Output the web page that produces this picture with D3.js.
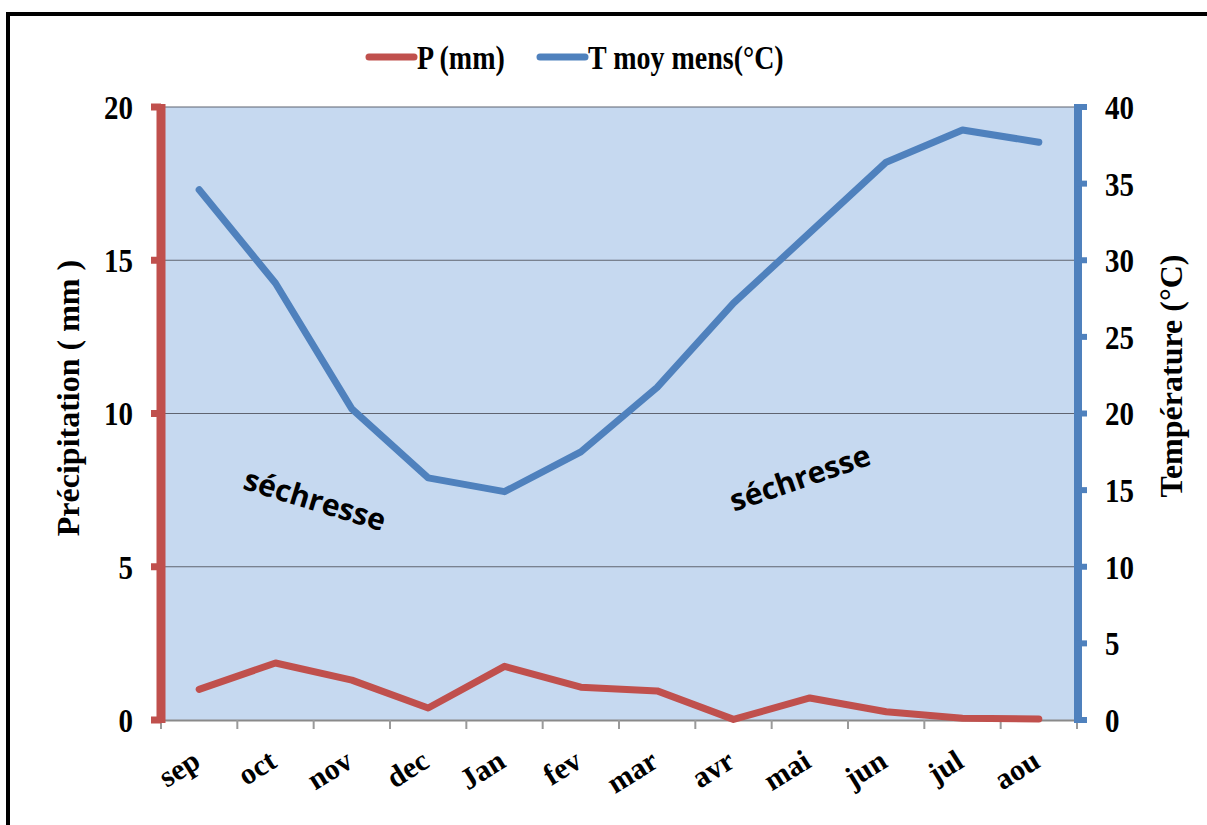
<!DOCTYPE html>
<html>
<head>
<meta charset="utf-8">
<script src="https://cdn.jsdelivr.net/npm/d3@7/dist/d3.min.js"></script>
<style>
  html, body { margin: 0; padding: 0; background: #fff; }
  svg { display: block; }
</style>
</head>
<body>
<svg id="chart" width="1207" height="825"></svg>
<script>
// Monthly climate data (hydrological year, Sept -> Aug)
const months = ["sep", "oct", "nov", "dec", "Jan", "fev", "mar", "avr", "mai", "jun", "jul", "aou"];
const precip = [1.0, 1.86, 1.3, 0.39, 1.75, 1.07, 0.95, 0.02, 0.72, 0.27, 0.06, 0.03];
const temp = [34.6, 28.5, 20.3, 15.8, 14.9, 17.5, 21.7, 27.2, 31.8, 36.4, 38.5, 37.7];
const precipTicks = [0, 5, 10, 15, 20];
const tempTicks = [0, 5, 10, 15, 20, 25, 30, 35, 40];

const RED = "#C0504D", BLUE = "#4F81BD", BG = "#C6D9F0";
const serif = "'Liberation Serif', 'Times New Roman', serif";
const TALL = 1.18; // vertical stretch applied to horizontal labels

const svg = d3.select("#chart");
const plot = { left: 161, right: 1077, top: 107, bottom: 720 };

const x = d3.scaleBand().domain(months).range([plot.left, plot.right]);
const yP = d3.scaleLinear().domain([0, 20]).range([plot.bottom, plot.top]);
const yT = d3.scaleLinear().domain([0, 40]).range([plot.bottom, plot.top]);

// outer frame
svg.append("rect").attr("x", 8).attr("y", 14).attr("width", 1300).attr("height", 900)
  .attr("fill", "none").attr("stroke", "#000").attr("stroke-width", 4);

// plot background
svg.append("rect").attr("x", plot.left).attr("y", plot.top)
  .attr("width", plot.right - plot.left).attr("height", plot.bottom - plot.top)
  .attr("fill", BG);

// plot top border and horizontal gridlines (precipitation scale)
svg.append("g").selectAll("line").data(precipTicks.filter(d => d > 0)).join("line")
  .attr("x1", plot.left).attr("x2", plot.right)
  .attr("y1", d => yP(d)).attr("y2", d => yP(d))
  .attr("stroke", "#5f6470").attr("stroke-width", 1.2);

// category axis
const xAxis = svg.append("g");
xAxis.append("line").attr("x1", plot.left).attr("x2", plot.right)
  .attr("y1", plot.bottom + 0.5).attr("y2", plot.bottom + 0.5)
  .attr("stroke", "#8a8a8a").attr("stroke-width", 2);
const bounds = months.map(m => x(m)).concat([plot.right]);
xAxis.selectAll("line.tick").data(bounds).join("line").attr("class", "tick")
  .attr("x1", d => d).attr("x2", d => d)
  .attr("y1", plot.bottom).attr("y2", plot.bottom + 9)
  .attr("stroke", "#9a9a9a").attr("stroke-width", 2);
xAxis.selectAll("text").data(months).join("text")
  .attr("transform", d => `translate(${x(d) + x.bandwidth() / 2 + 3},${plot.bottom + 46}) rotate(-32)`)
  .attr("text-anchor", "end")
  .attr("font-family", serif).attr("font-weight", "bold").attr("font-size", 30)
  .attr("fill", "#000").text(d => d);

// left axis (precipitation)
const leftAxis = svg.append("g");
leftAxis.append("line").attr("x1", plot.left).attr("x2", plot.left)
  .attr("y1", plot.top - 3).attr("y2", plot.bottom + 3)
  .attr("stroke", RED).attr("stroke-width", 9);
leftAxis.selectAll("line.tick").data(precipTicks).join("line").attr("class", "tick")
  .attr("x1", plot.left - 10).attr("x2", plot.left)
  .attr("y1", d => yP(d)).attr("y2", d => yP(d))
  .attr("stroke", RED).attr("stroke-width", 7);
leftAxis.selectAll("text").data(precipTicks).join("text")
  .attr("transform", d => `translate(133,${yP(d)}) scale(1,${TALL})`)
  .attr("dy", "0.35em")
  .attr("text-anchor", "end")
  .attr("font-family", serif).attr("font-weight", "bold").attr("font-size", 29)
  .text(d => d);

// right axis (temperature)
const rightAxis = svg.append("g");
rightAxis.append("line").attr("x1", plot.right + 1).attr("x2", plot.right + 1)
  .attr("y1", plot.top - 3).attr("y2", plot.bottom + 3)
  .attr("stroke", BLUE).attr("stroke-width", 8);
rightAxis.selectAll("line.tick").data(tempTicks).join("line").attr("class", "tick")
  .attr("x1", plot.right).attr("x2", plot.right + 10)
  .attr("y1", d => yT(d)).attr("y2", d => yT(d))
  .attr("stroke", BLUE).attr("stroke-width", 6);
rightAxis.selectAll("text").data(tempTicks).join("text")
  .attr("transform", d => `translate(1105,${yT(d)}) scale(1,${TALL})`)
  .attr("dy", "0.35em")
  .attr("text-anchor", "start")
  .attr("font-family", serif).attr("font-weight", "bold").attr("font-size", 29)
  .text(d => d);

// axis titles
svg.append("text").attr("transform", "translate(79,398) rotate(-90)")
  .attr("text-anchor", "middle")
  .attr("font-family", serif).attr("font-weight", "bold").attr("font-size", 32)
  .text("Précipitation ( mm )");
svg.append("text").attr("transform", "translate(1182,376) rotate(-90)")
  .attr("text-anchor", "middle")
  .attr("font-family", serif).attr("font-weight", "bold").attr("font-size", 32)
  .text("Température (°C)");

// series lines
const lineP = d3.line().x((d, i) => x(months[i]) + x.bandwidth() / 2).y(d => yP(d));
const lineT = d3.line().x((d, i) => x(months[i]) + x.bandwidth() / 2).y(d => yT(d));
svg.append("path").datum(temp).attr("d", lineT)
  .attr("fill", "none").attr("stroke", BLUE).attr("stroke-width", 7)
  .attr("stroke-linecap", "round").attr("stroke-linejoin", "round");
svg.append("path").datum(precip).attr("d", lineP)
  .attr("fill", "none").attr("stroke", RED).attr("stroke-width", 7)
  .attr("stroke-linecap", "round").attr("stroke-linejoin", "round");

// drought annotations
const notes = [
  { text: "séchresse", x: 315, y: 500, angle: 17 },
  { text: "séchresse", x: 800, y: 478, angle: -19 }
];
svg.append("g").selectAll("text").data(notes).join("text")
  .attr("transform", d => `translate(${d.x},${d.y}) rotate(${d.angle})`)
  .attr("text-anchor", "middle").attr("dy", "0.35em")
  .attr("font-family", "'Open Sans', Lato, sans-serif").attr("font-weight", "bold").attr("font-size", 30)
  .text(d => d.text);

// legend
const legend = [
  { label: "P (mm)", color: RED, x: 367 },
  { label: "T moy mens(°C)", color: BLUE, x: 538 }
];
const lg = svg.append("g").selectAll("g").data(legend).join("g")
  .attr("transform", d => `translate(${d.x},57)`);
lg.append("line").attr("x1", 2).attr("x2", 47).attr("y1", 0).attr("y2", 0)
  .attr("stroke", d => d.color).attr("stroke-width", 7).attr("stroke-linecap", "round");
lg.append("text").attr("transform", `translate(50,0) scale(1,${TALL})`).attr("dy", "0.35em")
  .attr("font-family", serif).attr("font-weight", "bold").attr("font-size", 28)
  .text(d => d.label);
</script>
</body>
</html>
